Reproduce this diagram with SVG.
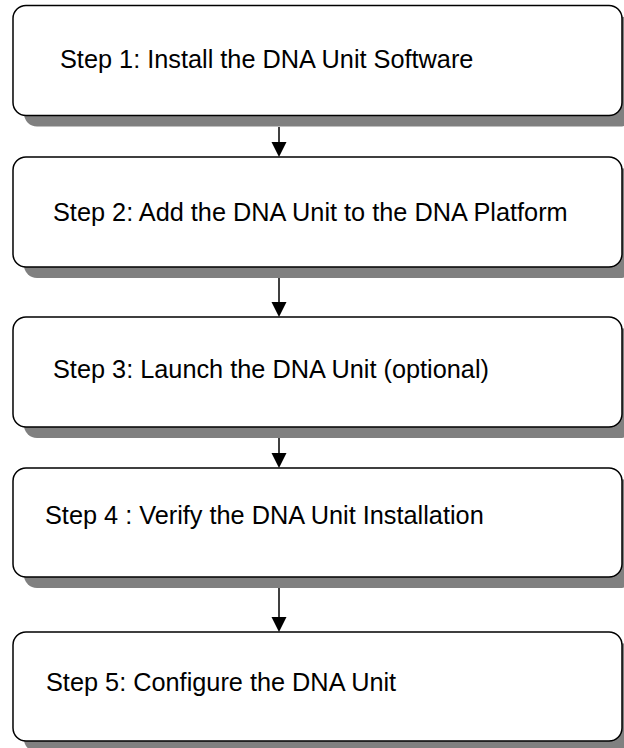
<svg xmlns="http://www.w3.org/2000/svg" width="624" height="748" viewBox="0 0 624 748">
<defs>
<style>
.shadow{fill:#808080;stroke:none}
.box{fill:#ffffff;stroke:#000000;stroke-width:1.5}
.label{font-family:"Liberation Sans",Arial,sans-serif;font-size:25.3px;fill:#000000}
.conn{stroke:#000000;stroke-width:1.5;fill:none}
.head{fill:#000000;stroke:none}
</style>
</defs>
<rect width="624" height="748" fill="#ffffff"/>
<g id="step1">
<rect class="shadow" x="24" y="16.5" width="609" height="110" rx="13"/>
<rect class="box" x="13" y="5.5" width="609" height="110" rx="13"/>
<text class="label" x="60" y="68">Step 1: Install the DNA Unit Software</text>
</g>
<g id="step2">
<rect class="shadow" x="24" y="168" width="609" height="110" rx="13"/>
<rect class="box" x="13" y="157" width="609" height="110" rx="13"/>
<text class="label" x="53" y="221">Step 2: Add the DNA Unit to the DNA Platform</text>
</g>
<g id="step3">
<rect class="shadow" x="24" y="328" width="609" height="110" rx="13"/>
<rect class="box" x="13" y="317" width="609" height="110" rx="13"/>
<text class="label" x="53" y="378">Step 3: Launch the DNA Unit (optional)</text>
</g>
<g id="step4">
<rect class="shadow" x="24" y="479" width="609" height="109" rx="13"/>
<rect class="box" x="13" y="468" width="609" height="109" rx="13"/>
<text class="label" x="45" y="524">Step 4 : Verify the DNA Unit Installation</text>
</g>
<g id="step5">
<rect class="shadow" x="24" y="643" width="609" height="109" rx="13"/>
<rect class="box" x="13" y="632" width="609" height="109" rx="13"/>
<text class="label" x="46" y="691">Step 5: Configure the DNA Unit</text>
</g>
<g id="connectors">
<line class="conn" x1="279" y1="127" x2="279" y2="143"/>
<path class="head" d="M271.5,142 L286.5,142 L279,157 Z"/>
<line class="conn" x1="279" y1="278" x2="279" y2="303"/>
<path class="head" d="M271.5,302 L286.5,302 L279,317 Z"/>
<line class="conn" x1="279" y1="438" x2="279" y2="454"/>
<path class="head" d="M271.5,453 L286.5,453 L279,468 Z"/>
<line class="conn" x1="279" y1="588" x2="279" y2="618"/>
<path class="head" d="M271.5,617 L286.5,617 L279,632 Z"/>
</g>
</svg>
